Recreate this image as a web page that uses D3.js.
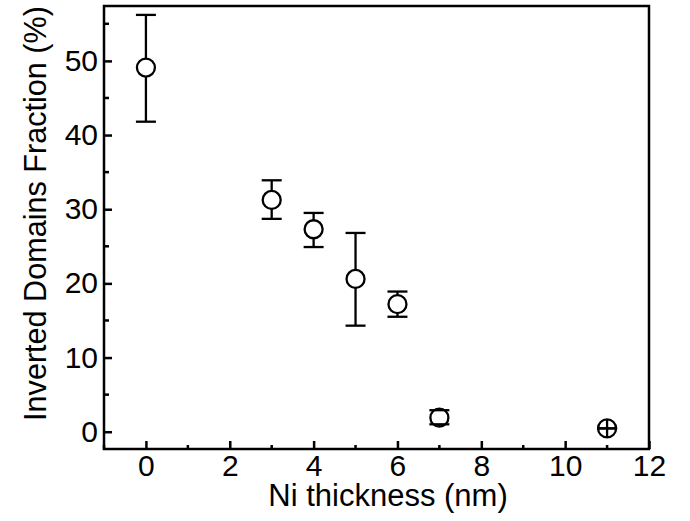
<!DOCTYPE html>
<html><head><meta charset="utf-8">
<script src="https://cdn.jsdelivr.net/npm/d3@7"></script>
<style>body{margin:0;background:#fff}svg{display:block}</style>
</head><body>
<svg id="c" width="690" height="521"></svg>
<script>
const thickness = [0, 3, 4, 5, 6, 7, 11];
const fraction  = [49.1, 31.25, 27.3, 20.6, 17.2, 1.9, 0.45];
const errHigh   = [56.2, 33.9, 29.5, 26.8, 18.9, 2.9, 0.45];
const errLow    = [41.8, 28.7, 24.9, 14.3, 15.5, 1.0, 0.45];
const xTicks = [0, 2, 4, 6, 8, 10, 12];
const yTicks = [0, 10, 20, 30, 40, 50];
const xMinor = [-1, 1, 3, 5, 7, 9, 11];
const yMinor = [5, 15, 25, 35, 45, 55];

const svg = d3.select("#c");
const L = 104, R = 649, T = 6, B = 449;
const x = d3.scaleLinear().domain([-1, 12]).range([L, R]);
const y = d3.scaleLinear().domain([-2.33, 57.4]).range([B, T]);
const font = "'Liberation Sans', Arial, Helvetica, sans-serif";

// frame
svg.append("rect").attr("x", L).attr("y", T).attr("width", R - L).attr("height", B - T)
  .attr("fill", "none").attr("stroke", "#000").attr("stroke-width", 2.5);

// x axis ticks (inward)
const gx = svg.append("g").attr("transform", `translate(0,${B})`)
  .call(d3.axisBottom(x).tickValues(xTicks).tickSize(-8).tickPadding(6).tickFormat(d3.format("d")));
gx.select(".domain").remove();
gx.selectAll("line").attr("stroke-width", 2.5);
gx.selectAll("text").attr("font-family", font).attr("font-size", 30).attr("fill", "#000");
svg.append("g").selectAll("line").data(xMinor).join("line")
  .attr("x1", d => x(d)).attr("x2", d => x(d)).attr("y1", B).attr("y2", B - 4)
  .attr("stroke", "#000").attr("stroke-width", 2.5);

// y axis ticks (inward)
const gy = svg.append("g").attr("transform", `translate(${L},0)`)
  .call(d3.axisLeft(y).tickValues(yTicks).tickSize(-8).tickPadding(6).tickFormat(d3.format("d")));
gy.select(".domain").remove();
gy.selectAll("line").attr("stroke-width", 2.5);
gy.selectAll("text").attr("font-family", font).attr("font-size", 30).attr("fill", "#000");
svg.append("g").selectAll("line").data(yMinor).join("line")
  .attr("y1", d => y(d)).attr("y2", d => y(d)).attr("x1", L).attr("x2", L + 5)
  .attr("stroke", "#000").attr("stroke-width", 2.5);

// titles
svg.append("text").attr("x", 388).attr("y", 506).attr("text-anchor", "middle")
  .attr("font-family", font).attr("font-size", 31).text("Ni thickness (nm)");
svg.append("text").attr("transform", `translate(46,213.5) rotate(-90)`).attr("text-anchor", "middle")
  .attr("font-family", font).attr("font-size", 30.6).text("Inverted Domains Fraction (%)");

// data points
const r = 9, cap = 10;
const pts = thickness.map((t, i) => ({t, v: fraction[i], hi: errHigh[i], lo: errLow[i]}));
const g = svg.append("g").attr("stroke", "#000").attr("stroke-width", 2.3);
pts.forEach(p => {
  const cx = x(p.t), cy = y(p.v);
  g.append("circle").attr("cx", cx).attr("cy", cy).attr("r", r).attr("fill", "#fff");
  g.append("line").attr("x1", cx).attr("x2", cx).attr("y1", cy - r).attr("y2", y(p.hi));
  g.append("line").attr("x1", cx).attr("x2", cx).attr("y1", cy + r).attr("y2", y(p.lo));
  g.append("line").attr("x1", cx - cap).attr("x2", cx + cap).attr("y1", y(p.hi)).attr("y2", y(p.hi));
  g.append("line").attr("x1", cx - cap).attr("x2", cx + cap).attr("y1", y(p.lo)).attr("y2", y(p.lo));
});
</script>
</body></html>
